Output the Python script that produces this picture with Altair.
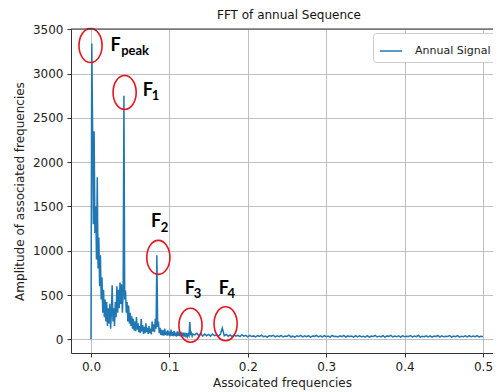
import altair as alt
import pandas as pd

# ---- spectrum, dense part: f = 0.000 .. 0.130 (step 0.001)
amp_low = [0, 3340, 2400, 1300, 2350, 1200, 1500, 900, 1830, 800,
           1150, 600, 950, 450, 700, 300, 560, 250, 450, 200,
           420, 150, 350, 180, 400, 120, 300, 610, 200, 350,
           150, 420, 250, 600, 300, 560, 350, 640, 400, 620,
           300, 500, 2750, 450, 550, 300, 420, 200, 380, 180,
           300, 150, 260, 120, 230, 100, 200, 90, 250, 110,
           180, 80, 150, 70, 230, 90, 160, 60, 140, 70,
           180, 80, 130, 60, 150, 70, 120, 55, 200, 90,
           170, 80, 230, 120, 950, 140, 200, 70, 130, 50,
           110, 45, 100, 40, 120, 50, 90, 40, 100, 45,
           85, 35, 110, 40, 80, 35, 95, 40, 75, 30,
           90, 40, 70, 35, 80, 30, 65, 35, 75, 30,
           60, 35, 70, 30, 55, 40, 195, 45, 70, 35,
           60]
step_low = 0.001

# ---- spectrum, sparse part: f = 0.1325 .. 0.5 (step 0.0025)
amp_high = [50, 70, 40, 65, 35, 60, 40, 55, 35, 60, 40, 50, 35, 55, 128, 40, 55, 35, 50, 30,
            50, 35, 45, 30, 50, 35, 45,
            28, 44, 31, 38, 26, 42, 33, 47, 29, 36, 25, 41, 34, 45, 27, 39, 30, 43, 26, 37,
            32, 46, 28, 35, 24, 40, 31, 44, 27, 38, 29, 42, 25, 36, 33, 45, 28, 39, 26, 41,
            30, 37, 24, 43, 31, 35, 27, 40, 29, 44, 26, 38, 32, 36, 25, 42, 28, 39, 30, 34,
            27, 41, 24, 37, 31, 43, 26, 35, 29, 40, 25, 38, 32, 44, 27, 36, 30, 39, 24, 42,
            28, 35, 31, 41, 26, 37, 29, 45, 25, 34, 30, 40, 27, 38, 24, 36, 31, 43, 26, 39,
            28, 35, 32, 41, 25, 37, 29, 42, 27, 34, 30, 38, 26, 40, 28, 36, 29, 41, 27, 33, 30]
start_high = 0.1325
step_high = 0.0025

series_name = "Annual Signal"

# ---- annotations
circle_x = [-0.0006, 0.0429, 0.0859, 0.1269, 0.1717]
circle_y = [3318, 2788, 925, 158, 175]

label_main = ["F", "F", "F", "F", "F"]
label_sub = ["peak", "1", "2", "3", "4"]
main_x = [0.0249, 0.0660, 0.0766, 0.1196, 0.1629]
main_y = [3262, 2743, 1268, 508, 508]
sub_x = [0.0385, 0.0776, 0.0890, 0.1311, 0.1740]
sub_y = [3211, 2698, 1211, 463, 463]

freq = [round(i * step_low, 4) for i in range(len(amp_low))] + \
       [round(start_high + j * step_high, 4) for j in range(len(amp_high))]
amps = amp_low + amp_high
df = pd.DataFrame({"f": freq, "amp": amps, "series": series_name})

circ_df = pd.DataFrame({"x": circle_x, "y": circle_y})
main_df = pd.DataFrame({"x": main_x, "y": main_y, "t": label_main})
sub_df = pd.DataFrame({"x": sub_x, "y": sub_y, "t": label_sub})

W, H = 422, 324
xscale = alt.Scale(domain=[-0.02551, 0.51276], nice=False, zero=False)
yscale = alt.Scale(domain=[-155, 3505], nice=False, zero=False)

font = "DejaVu Sans"

xaxis = alt.Axis(values=[0, 0.1, 0.2, 0.3, 0.4, 0.5], format=".1f",
                 title="Assoicated frequencies", grid=True)
yaxis = alt.Axis(values=[0, 500, 1000, 1500, 2000, 2500, 3000, 3500], format="d",
                 title="Amplitude of associated frequencies", grid=True)

line = alt.Chart(df).mark_line(strokeWidth=1.5, clip=True).encode(
    x=alt.X("f:Q", scale=xscale, axis=xaxis),
    y=alt.Y("amp:Q", scale=yscale, axis=yaxis),
    color=alt.Color("series:N",
                    scale=alt.Scale(domain=[series_name], range=["#1f77b4"]),
                    legend=alt.Legend(title=None, orient="none", legendX=302, legendY=4,
                                      symbolType="stroke", symbolSize=500,
                                      symbolStrokeWidth=1.5, labelFont=font,
                                      labelFontSize=11, labelColor="#222",
                                      fillColor="white", strokeColor="#cccccc",
                                      padding=6, cornerRadius=3, labelOffset=12)),
)

ellipse_path = "M -0.68 0 A 0.68 1 0 1 1 0.68 0 A 0.68 1 0 1 1 -0.68 0 Z"
circles = alt.Chart(circ_df).mark_point(
    shape=ellipse_path, size=1156, filled=False, stroke="#e8141c",
    strokeWidth=1.6, opacity=1
).encode(x=alt.X("x:Q", scale=xscale), y=alt.Y("y:Q", scale=yscale))

mains = alt.Chart(main_df).mark_text(
    align="left", baseline="alphabetic", font="Lato", fontWeight="bold",
    fontSize=18, color="black"
).encode(x=alt.X("x:Q", scale=xscale), y=alt.Y("y:Q", scale=yscale), text="t:N")

subs = alt.Chart(sub_df).mark_text(
    align="left", baseline="alphabetic", font="Lato", fontWeight="bold",
    fontSize=13, color="black"
).encode(x=alt.X("x:Q", scale=xscale), y=alt.Y("y:Q", scale=yscale), text="t:N")

top_spine = alt.Chart(pd.DataFrame({"a": [0]})).mark_rule(color="#333", strokeWidth=1).encode(
    x=alt.value(0), x2=alt.value(W), y=alt.value(0)
)

chart = alt.layer(line, circles, mains, subs, top_spine).properties(
    width=W, height=H,
    autosize=alt.AutoSizeParams(type="none"),
    padding={"left": 63, "top": 21, "right": 0, "bottom": 37},
    title=alt.TitleParams("FFT of annual Sequence", font=font, fontSize=12,
                          fontWeight="normal", color="#111", offset=1, dx=7),
).configure_view(stroke=None).configure_axis(
    labelFont=font, labelFontSize=12, labelColor="#222",
    titleFont=font, titleFontSize=12, titleFontWeight="normal", titleColor="#222",
    domainColor="#333", domainWidth=1, tickColor="#333", tickSize=4,
    gridColor="#b0b0b0", gridWidth=0.8, labelPadding=4,
).configure_axisX(titlePadding=5).configure_axisY(titlePadding=6)

chart.save("out.html", embed_options={"renderer": "svg", "actions": False})
